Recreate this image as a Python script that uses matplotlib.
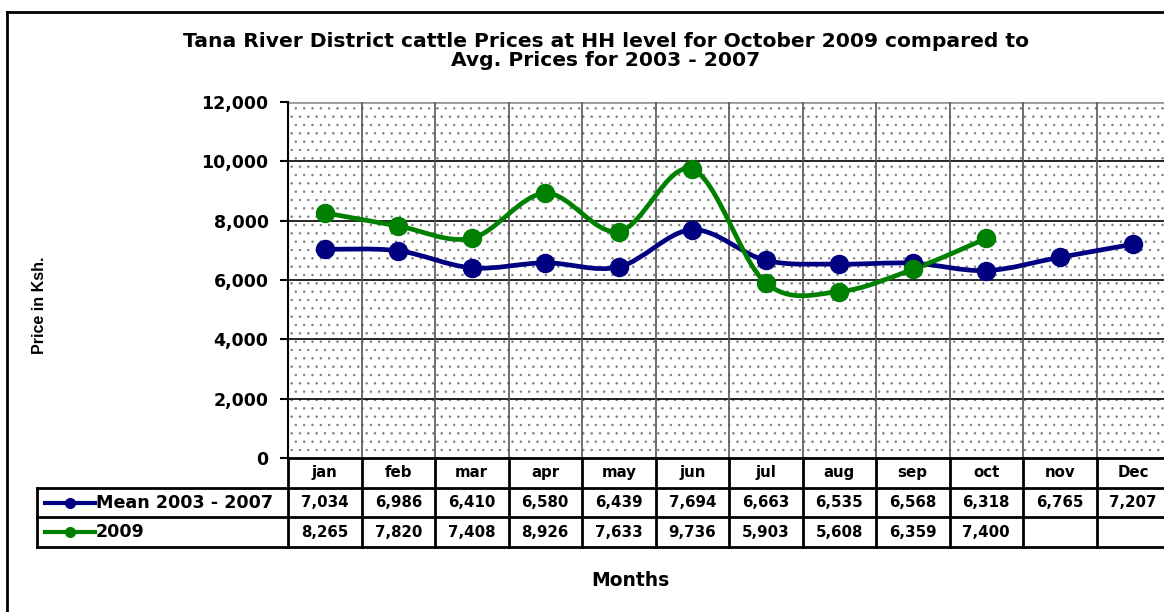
import matplotlib
matplotlib.use("Agg")
import matplotlib.pyplot as plt
from matplotlib.path import Path
from matplotlib.patches import PathPatch, Rectangle
from matplotlib.lines import Line2D
import matplotlib.transforms as mtransforms

plt.rcParams['font.family'] = ['DejaVu Sans']
plt.rcParams['hatch.linewidth'] = 0.5

months = ["jan", "feb", "mar", "apr", "may", "jun", "jul", "aug", "sep", "oct", "nov", "Dec"]
mean_label = "Mean 2003 - 2007"
mean_vals = [7034, 6986, 6410, 6580, 6439, 7694, 6663, 6535, 6568, 6318, 6765, 7207]
y2009_label = "2009"
y2009_vals = [8265, 7820, 7408, 8926, 7633, 9736, 5903, 5608, 6359, 7400]
title = "Tana River District cattle Prices at HH level for October 2009 compared to\nAvg. Prices for 2003 - 2007"
yticks = [0, 2000, 4000, 6000, 8000, 10000, 12000]

W, H = 1164, 612
fig = plt.figure(figsize=(W / 100, H / 100), dpi=100)

def fx(px):
    return px / W

def fy(py):
    return 1 - py / H

# outer border
fig.add_artist(Line2D([fx(7), fx(7)], [fy(12), fy(612)], color='black', lw=2, transform=fig.transFigure))
fig.add_artist(Line2D([fx(7), fx(1164)], [fy(12), fy(12)], color='black', lw=2, transform=fig.transFigure))

ax_left, ax_right, ax_top, ax_bot = 288, 1170, 102, 458
ax = fig.add_axes([fx(ax_left), fy(ax_bot), fx(ax_right - ax_left), fy(ax_top) - fy(ax_bot)])
n = len(months)
ax.set_xlim(-0.5, n - 0.5)
ax.set_ylim(0, 12000)

# dotted background
bg = Rectangle((0, 0), 1, 1, transform=ax.transAxes, facecolor='white',
               edgecolor='#7a7a7a', hatch='..', lw=0, zorder=0)
ax.add_patch(bg)

# gridlines
for v in yticks[1:-1]:
    ax.axhline(v, color='black', lw=1.2, zorder=1)
ax.axhline(12000, color='#999999', lw=2, zorder=1)
for i in range(1, n):
    ax.axvline(i - 0.5, color='#555555', lw=1.2, zorder=1)

for s in ['top', 'right', 'bottom']:
    ax.spines[s].set_visible(False)
ax.spines['left'].set_linewidth(1.5)
ax.set_xticks([])
ax.set_yticks(yticks)
ax.set_yticklabels([f"{v:,}" for v in yticks], fontsize=12.5, fontweight='bold')
ax.tick_params(axis='y', direction='out', length=6, width=1.5, pad=8)


def smooth_path(xs, ys):
    pts = list(zip(xs, ys))
    verts = [pts[0]]
    codes = [Path.MOVETO]
    for i in range(len(pts) - 1):
        p0 = pts[i - 1] if i > 0 else pts[i]
        p1 = pts[i]
        p2 = pts[i + 1]
        p3 = pts[i + 2] if i + 2 < len(pts) else pts[i + 1]
        c1 = (p1[0] + (p2[0] - p0[0]) / 6, p1[1] + (p2[1] - p0[1]) / 6)
        c2 = (p2[0] - (p3[0] - p1[0]) / 6, p2[1] - (p3[1] - p1[1]) / 6)
        verts += [c1, c2, p2]
        codes += [Path.CURVE4] * 3
    return Path(verts, codes)


series = [(mean_vals, '#000080'), (y2009_vals, '#008000')]
for vals, col in series:
    xs = list(range(len(vals)))
    ax.add_patch(PathPatch(smooth_path(xs, vals), facecolor='none', edgecolor=col,
                           lw=3.4, zorder=3, clip_on=False))
    ax.plot(xs, vals, linestyle='none', marker='o', markersize=13, color=col, zorder=4, clip_on=False)

# data table
ax_h = ax_bot - ax_top
rh = 29.7 / ax_h
trans = mtransforms.blended_transform_factory(ax.transData, ax.transAxes)
col_w = (ax_right - ax_left) / n
leg_left = -0.5 - (ax_left - 37) / col_w
lw_t = 2
kw = dict(transform=trans, clip_on=False, color='black', lw=lw_t)

ax.add_line(Line2D([-0.5, n - 0.5], [0, 0], **kw))
for k in (1, 2, 3):
    ax.add_line(Line2D([leg_left, n - 0.5], [-k * rh, -k * rh], **kw))
for i in range(n + 1):
    ax.add_line(Line2D([i - 0.5, i - 0.5], [0, -3 * rh], **kw))
ax.add_line(Line2D([leg_left, leg_left], [-rh, -3 * rh], **kw))

tfont = dict(fontsize=10.8, fontweight='bold', transform=trans, ha='center', va='center', clip_on=False)
for i, m in enumerate(months):
    ax.text(i, -0.5 * rh, m, **tfont)
for i, v in enumerate(mean_vals):
    ax.text(i, -1.5 * rh, f"{v:,}", **tfont)
for i, v in enumerate(y2009_vals):
    ax.text(i, -2.5 * rh, f"{v:,}", **tfont)

key_x0 = leg_left + 8 / col_w
key_x1 = leg_left + 58 / col_w
for k, (lab, (vals, col)) in enumerate(zip([mean_label, y2009_label], series)):
    yy = -(1.5 + k) * rh
    ax.add_line(Line2D([key_x0, key_x1], [yy, yy], color=col, lw=3, transform=trans, clip_on=False))
    ax.add_line(Line2D([(key_x0 + key_x1) / 2], [yy], color=col, marker='o', markersize=7,
                       linestyle='none', transform=trans, clip_on=False))
    ax.text(key_x1 + 1 / col_w, yy, lab, fontsize=12.6, fontweight='bold', transform=trans,
            ha='left', va='center', clip_on=False)

fig.text(fx(606), fy(51), title, ha='center', va='center', fontsize=14.6, fontweight='bold',
         linespacing=1.05)
fig.text(fx(630), fy(580), "Months", ha='center', va='center', fontsize=13.5, fontweight='bold')
fig.text(fx(40), fy(305), "Price in Ksh.", ha='center', va='center', rotation=90, fontsize=11.5,
         fontweight='bold', family=['Liberation Sans'])

fig.savefig("out.png", dpi=100)
